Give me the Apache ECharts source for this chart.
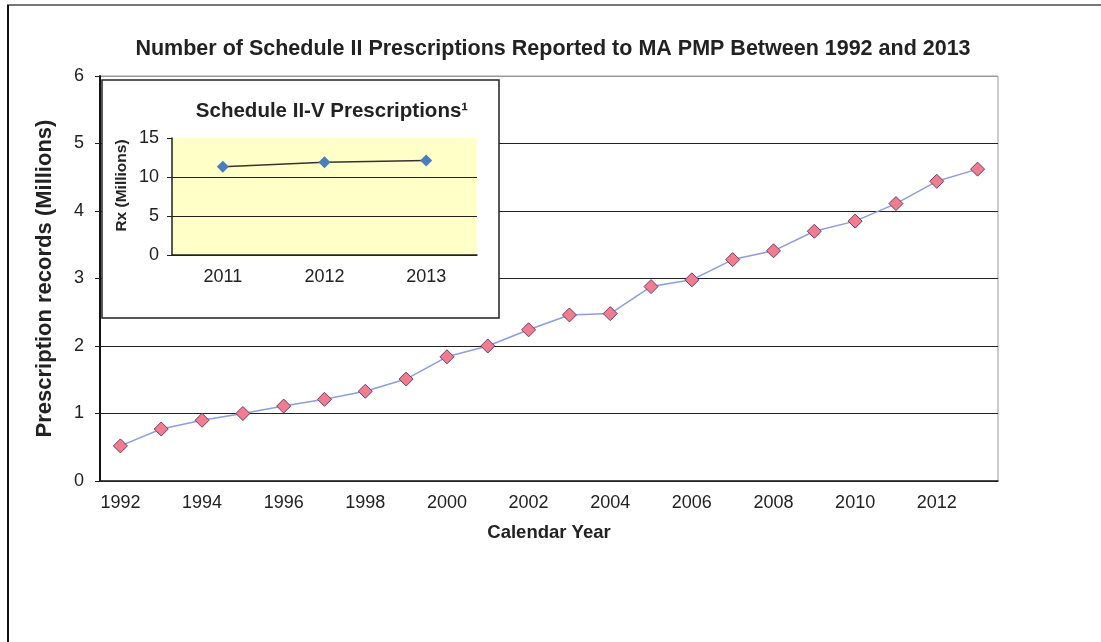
<!DOCTYPE html>
<html>
<head>
<meta charset="utf-8">
<style>
  html, body { margin: 0; padding: 0; background: #fff; }
  #chart { width: 1101px; height: 642px; }
</style>
<script src="https://cdn.jsdelivr.net/npm/echarts@6/dist/echarts.min.js"></script>
</head>
<body>
<div id="chart"></div>
<script>
const YEARS = ['1992', '1993', '1994', '1995', '1996', '1997', '1998', '1999', '2000', '2001', '2002',
  '2003', '2004', '2005', '2006', '2007', '2008', '2009', '2010', '2011', '2012', '2013']
// Schedule II prescription records, millions
const SCHEDULE_II = [0.52, 0.77, 0.9, 1.0, 1.11, 1.21, 1.33, 1.51, 1.84, 2.0, 2.24,
  2.46, 2.48, 2.88, 2.98, 3.28, 3.41, 3.7, 3.85, 4.11, 4.44, 4.62]

const INSET_YEARS = ['2011', '2012', '2013']
// Schedule II-V prescriptions, millions
const SCHEDULE_II_V = [11.3, 11.9, 12.1]

const FONT = 'Liberation Sans, Arial, sans-serif'
const INK = '#222'

const chart = echarts.init(document.getElementById('chart'))

chart.setOption({
  animation: false,
  backgroundColor: '#fff',
  textStyle: { fontFamily: FONT },
  title: [
    {
      text: 'Number of Schedule II Prescriptions Reported to MA PMP Between 1992 and 2013',
      left: 548,
      textAlign: 'center',
      top: 33,
      z: 30,
      textStyle: { fontSize: 21.5, fontWeight: 'bold', color: INK, fontFamily: FONT },
    },
    {
      text: 'Schedule II-V Prescriptions¹',
      left: 327,
      textAlign: 'center',
      top: 96,
      z: 30,
      textStyle: { fontSize: 20.5, fontWeight: 'bold', color: INK, fontFamily: FONT },
    },
  ],
  graphic: [
    // outer frame (only top and left edges visible in the picture)
    { type: 'line', z: 1, shape: { x1: 7, y1: 5, x2: 1101, y2: 5 }, style: { stroke: '#777', lineWidth: 2 } },
    { type: 'line', z: 1, shape: { x1: 8, y1: 5, x2: 8, y2: 642 }, style: { stroke: '#111', lineWidth: 2 } },
    // inset box
    {
      type: 'rect',
      z: 15,
      shape: { x: 102, y: 80, width: 397, height: 238 },
      style: { fill: '#fff', stroke: '#222', lineWidth: 1.5 },
    },
  ],
  grid: [
    {
      left: 100,
      right: 103,
      top: 76,
      bottom: 161,
      show: true,
      borderColor: '#999',
      borderWidth: 1,
      backgroundColor: 'transparent',
    },
    {
      left: 172,
      right: 624,
      top: 138,
      bottom: 387,
      show: true,
      z: 20,
      borderWidth: 0,
      backgroundColor: '#FFFFC8',
    },
  ],
  xAxis: [
    {
      type: 'category',
      gridIndex: 0,
      data: YEARS,
      boundaryGap: true,
      name: 'Calendar Year',
      nameLocation: 'middle',
      nameGap: 42,
      nameTextStyle: { fontSize: 18.5, fontWeight: 'bold', color: INK },
      axisLine: { lineStyle: { color: INK, width: 1.5 } },
      axisTick: { interval: 1, length: 6, lineStyle: { color: INK } },
      axisLabel: { interval: 1, fontSize: 18, color: INK, margin: 13 },
      splitLine: { show: false },
    },
    {
      type: 'category',
      gridIndex: 1,
      z: 21,
      data: INSET_YEARS,
      boundaryGap: true,
      axisLine: { lineStyle: { color: INK, width: 1.5 } },
      axisTick: { length: 5, lineStyle: { color: INK } },
      axisLabel: { fontSize: 18, color: INK, margin: 13 },
      splitLine: { show: false },
    },
  ],
  yAxis: [
    {
      type: 'value',
      gridIndex: 0,
      min: 0,
      max: 6,
      interval: 1,
      name: 'Prescription records (Millions)',
      nameLocation: 'middle',
      nameGap: 44,
      nameTextStyle: { fontSize: 22, fontWeight: 'bold', color: INK },
      axisLine: { show: true, lineStyle: { color: '#111', width: 2 } },
      axisTick: { show: true, length: 5, lineStyle: { color: INK } },
      axisLabel: { fontSize: 18, color: INK, margin: 16 },
      splitLine: {
        show: true,
        lineStyle: { color: [INK, INK, INK, INK, INK, INK, '#999'], width: 1.2 },
      },
    },
    {
      type: 'value',
      gridIndex: 1,
      z: 21,
      min: 0,
      max: 15,
      interval: 5,
      name: 'Rx (Millions)',
      nameLocation: 'middle',
      nameGap: 42,
      nameTextStyle: { fontSize: 15.5, fontWeight: 'bold', color: INK, padding: [0, 0, 0, 22] },
      axisLine: { show: true, lineStyle: { color: INK, width: 1.5 } },
      axisTick: { show: true, length: 5, lineStyle: { color: INK } },
      axisLabel: { fontSize: 18, color: INK, margin: 13 },
      splitLine: {
        show: true,
        lineStyle: { color: [INK, INK, INK, 'rgba(0,0,0,0)'], width: 1.2 },
      },
    },
  ],
  series: [
    {
      type: 'line',
      xAxisIndex: 0,
      yAxisIndex: 0,
      data: SCHEDULE_II,
      symbol: 'diamond',
      symbolSize: 14,
      lineStyle: { color: '#8C9EE0', width: 1.5 },
      itemStyle: { color: '#F07C8E', borderColor: '#6E3D6E', borderWidth: 1 },
    },
    {
      type: 'line',
      xAxisIndex: 1,
      yAxisIndex: 1,
      z: 22,
      data: SCHEDULE_II_V,
      symbol: 'diamond',
      symbolSize: 12,
      lineStyle: { color: '#333', width: 1.5 },
      itemStyle: { color: '#4A7EBB', borderColor: '#4A7EBB', borderWidth: 0 },
    },
  ],
})
</script>
</body>
</html>
